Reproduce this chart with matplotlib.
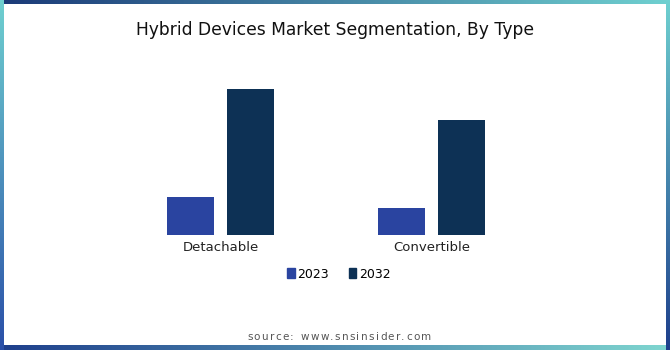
import numpy as np
import matplotlib.pyplot as plt
from matplotlib.colors import LinearSegmentedColormap
from matplotlib.patches import Patch

categories = ["Detachable", "Convertible"]
years = ["2023", "2032"]
values_2023 = [3.8, 2.7]
values_2032 = [14.6, 11.5]

COLORS = ["#2a44a0", "#0d3155"]
TITLE = "Hybrid Devices Market Segmentation, By Type"
SOURCE = "source: www.snsinsider.com"

W, H = 670, 350
fig = plt.figure(figsize=(W / 100, H / 100), dpi=100)
fig.patch.set_facecolor("white")

# frame strips with gradients (c1 = left / top end)
def strip(x0, y0, w, h, c1, c2, vertical=False):
    ax = fig.add_axes([x0 / W, 1 - (y0 + h) / H, w / W, h / H], zorder=-5)
    cmap = LinearSegmentedColormap.from_list("g", [c1, c2])
    grad = np.linspace(0, 1, 256)
    grad = grad.reshape(-1, 1) if vertical else grad.reshape(1, -1)
    ax.imshow(grad, aspect="auto", cmap=cmap, extent=[0, 1, 0, 1])
    ax.set_axis_off()

strip(0, 0, W, 4, "#1b3a78", "#6fd0d0")
strip(0, H - 5, W, 5, "#1e3f8c", "#7fd6d0")
strip(0, 0, 4, H, "#6fd0d0", "#2a4fa8", vertical=True)
strip(W - 4, 0, 4, H, "#6fd0d0", "#1e3f8c", vertical=True)

# main bar axes
x = np.arange(len(categories))
bw = 0.223
off = 0.142
ax = fig.add_axes([93.9 / W, 1 - 235 / H, 464.2 / W, 155 / H])
ax.bar(x - off, values_2023, bw, color=COLORS[0], label=years[0])
ax.bar(x + off, values_2032, bw, color=COLORS[1], label=years[1])
ax.set_xlim(-0.6, 1.6)
ax.set_ylim(0, 15.5)
ax.set_xticks(x)
ax.set_xticklabels(categories, fontsize=9.5, color="#222222", family="DejaVu Sans")
ax.tick_params(axis="x", length=0, pad=4)
ax.set_yticks([])
for s in ax.spines.values():
    s.set_visible(False)

fig.text(335 / W, 1 - 30 / H, TITLE, ha="center", va="center",
         fontsize=12.3, color="#111111", family="DejaVu Sans")

handles = [Patch(color=c, label=y) for c, y in zip(COLORS, years)]
fig.legend(handles=handles, loc="center", bbox_to_anchor=(339 / W, 1 - 274 / H),
           ncol=2, frameon=False, fontsize=9, handlelength=0.6, handleheight=0.9,
           handletextpad=0.2, columnspacing=1.6)

# letter-spaced source line
renderer = fig.canvas.get_renderer()
fs = 7.5
widths = []
for ch in SOURCE:
    t = fig.text(0, 0, ch if ch != " " else "n", fontsize=fs, family="DejaVu Sans")
    widths.append(t.get_window_extent(renderer).width * (0.6 if ch == " " else 1))
    t.remove()
track = (184 - sum(widths)) / (len(SOURCE) - 1)
xpos = 247
for ch, w in zip(SOURCE, widths):
    fig.text(xpos / W, 1 - 337 / H, ch, ha="left", va="center",
             fontsize=fs, color="#555555", family="DejaVu Sans")
    xpos += w + track

fig.savefig("out.png", dpi=100)
